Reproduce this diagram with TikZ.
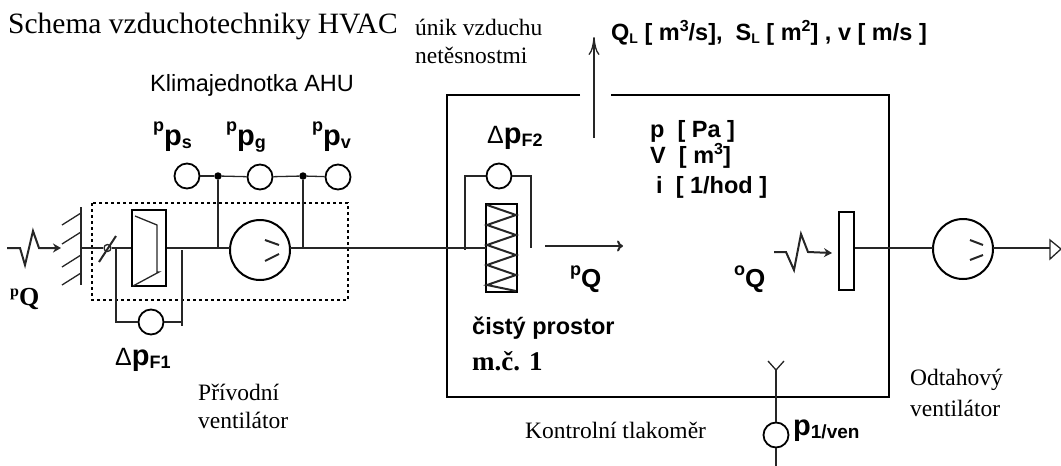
\documentclass[tikz,border=0pt]{standalone}
\usepackage{fontspec}
\setmainfont{Liberation Serif}
\setsansfont{Liberation Sans}
\usetikzlibrary{arrows.meta}
\newcommand{\fsz}[1]{\fontsize{#1}{#1}\selectfont}
\newcommand{\upidx}[2]{\raisebox{#2}{\fsz{18}#1}}
\newcommand{\dnidx}[2]{\raisebox{-3pt}{\fsz{#2}#1}}
\newcommand{\supidx}[1]{\raisebox{9pt}{\fsz{16}#1}}
\tikzset{
    pipe/.style={line width=1.3pt,black!85},
    wall/.style={line width=2.2pt},
    gauge/.style={circle,draw,line width=1.8pt,minimum size=25pt,inner sep=0pt},
    fan/.style={circle,draw,line width=2pt,minimum size=60pt,inner sep=0pt},
    dot/.style={circle,fill,minimum size=7.5pt,inner sep=0pt},
    lab/.style={anchor=west,inner sep=0pt,font=\sffamily\bfseries\fsz{23.5}},
    note/.style={anchor=west,inner sep=0pt,font=\rmfamily\fsz{23.5},align=left},
    big/.style={anchor=base west,inner sep=0pt,font=\sffamily\bfseries\fsz{29}},
    vane/.style={line width=2pt,black!85},
}
\begin{document}
\begin{tikzpicture}[x=1pt,y=-1pt]
    \useasboundingbox (0,0) rectangle (1061,466);
    %% texts
    \node[note,font=\rmfamily\fsz{29.5}] (title) at (8,26) {Schema vzduchotechniky HVAC};
    \node[note] (leaka) at (415,27) {únik vzduchu};
    \node[note] (leakb) at (415,55) {netěsnostmi};
    \node[note,font=\sffamily\fsz{23.5}] (ahu) at (150,85) {Klimajednotka AHU};
    \node[lab] (leakdata) at (611,33) {Q\dnidx{L}{14} [ m\supidx{3}/s],\ \ S\dnidx{L}{14} [ m\supidx{2}] , v [ m/s ]};
    \node[lab] (roomp) at (650,131) {p\ \ [ Pa ]};
    \node[lab] (roomv) at (650,156) {V\ \ [ m\supidx{3}]};
    \node[lab] (roomi) at (656,187) {i\ \ [ 1/hod ]};
    \node[big] (lps) at (153,145) {\upidx{p}{14pt}p\dnidx{s}{18}};
    \node[big] (lpg) at (226,145) {\upidx{p}{14pt}p\dnidx{g}{18}};
    \node[big] (lpv) at (312,145) {\upidx{p}{14pt}p\dnidx{v}{18}};
    \node[big] (ldfa) at (115,365) {{\mdseries\fsz{25}Δ}p\dnidx{F1}{18}};
    \node[big] (ldfb) at (487,143) {{\mdseries\fsz{25}Δ}p\dnidx{F2}{18}};
    \node[big,font=\rmfamily\bfseries\fsz{26}] (lqin) at (10,305) {\raisebox{9pt}{\fsz{16}p}Q};
    \node[big,font=\sffamily\bfseries\fsz{26}] (lqroom) at (570,287) {\upidx{p}{12pt}Q};
    \node[big,font=\sffamily\bfseries\fsz{26}] (lqout) at (734,287) {\upidx{o}{12pt}Q};
    \node[note,font=\sffamily\bfseries\fsz{23.5}] (clean) at (472,328) {čistý prostor};
    \node[note,font=\rmfamily\bfseries\fsz{27}] (mc) at (472,361) {m.č. 1};
    \node[note] (supa) at (198,392) {Přívodní};
    \node[note] (supb) at (198,420) {ventilátor};
    \node[note] (ctrl) at (525,430) {Kontrolní tlakoměr};
    \node[note] (odta) at (910,380) {Odtahový};
    \node[note] (odtb) at (910,408) {ventilátor};
    \node[big] (lpone) at (793,435) {p\dnidx{1/ven}{19}};
    %% room walls
    \draw[wall] (580,95) -- (447,95) -- (447,397) -- (889,397) -- (889,95) -- (611,95);
    %% AHU frame
    \draw[line width=1.6pt,dash pattern=on 3pt off 3pt] (92,203) rectangle (348,300);
    %% inlet grille
    \coordinate (grille) at (81,248);
    \draw[pipe] (81,207) -- (81,285);
    \foreach \y in {213,232,255,273}
        \draw[pipe] (81,\y) -- (62,\y+12);
    %% elements on the supply duct
    \node[circle,draw,pipe,minimum size=7pt,inner sep=0pt] (damper) at (107.5,248) {};
    \draw[vane] (99,262) -- (116,236);
    \node[draw,line width=1.6pt,minimum width=34pt,minimum height=76pt,inner sep=0pt] (filter) at (149,248) {};
    \draw[pipe] (135,216) -- (157,225) -- (157,272) -- (159,272) -- (133,286);
    \node[fan] (supfan) at (260,250) {};
    \draw[vane] (265,240) -- (279,245) (265,261) -- (279,254);
    \node[draw,line width=2pt,minimum width=31pt,minimum height=88pt,inner sep=0pt] (coil) at (501.5,248) {};
    \draw[vane] (487,205) -- (516,215) -- (487,225) -- (516,235) -- (487,245) -- (516,255) -- (487,265) -- (516,275) -- (487,285) -- (516,291);
    %% duct
    \coordinate (supout) at (290,248);
    \coordinate (coilin) at (486,248);
    \draw[pipe] (grille) -- (damper);
    \draw[pipe] (damper) -- (filter);
    \draw[pipe] (filter.east) -- (230,248);
    \draw[pipe] (supout) -- (coilin);
    %% pressure gauges
    \node[gauge] (ps) at (187,176) {};
    \node[gauge] (pg) at (260,177) {};
    \node[gauge] (pv) at (338,177) {};
    \node[dot] (tapa) at (218,176) {};
    \node[dot] (tapb) at (303,176) {};
    \draw[pipe] (ps) -- (tapa);
    \draw[pipe] (tapa) -- (pg);
    \draw[pipe] (pg) -- (tapb);
    \draw[pipe] (tapb) -- (pv);
    \draw[pipe] (tapa) -- (218,248);
    \draw[pipe] (tapb) -- (303,248);
    %% filter gauge
    \node[gauge] (dfa) at (151,322) {};
    \draw[pipe] (dfa) -- (116,322) -- (116,248);
    \draw[pipe] (dfa) -- (182,322);
    \draw[pipe] (182,250) -- (182,326);
    %% coil gauge
    \node[gauge] (dfb) at (499,176) {};
    \draw[pipe] (dfb) -- (465,176) -- (465,250);
    \draw[pipe] (dfb) -- (531,176) -- (531,248);
    %% air flows
    \draw[vane,-{Stealth[length=8pt,width=9pt]}] (7,248) -- (20,248) -- (25,265) -- (33,231) -- (39,248) -- (61,248);
    \draw[vane,-{Stealth[length=8pt,width=9pt]}] (774,252) -- (786,252) -- (794,270) -- (801,234) -- (808,252) -- (832,253);
    \draw[vane,-{To[length=6pt,width=11pt]}] (545,246) -- (623,246);
    \draw[pipe,-{To[length=18pt,width=11pt]}] (594,138) -- (594,37);
    %% exhaust
    \node[draw,line width=1.6pt,minimum width=15pt,minimum height=78pt,inner sep=0pt] (outlet) at (846.5,251) {};
    \node[fan] (exfan) at (963,249) {};
    \draw[vane] (970,240) -- (983,245) (970,260) -- (983,255);
    \coordinate (vent) at (1050,248);
    \draw[pipe] (855,248) -- (933,248);
    \draw[pipe] (993,248) -- (vent);
    \draw[pipe] (1050,240) -- (1061,249) -- (1050,259) -- cycle;
    %% control gauge
    \node[gauge] (pone) at (776,435) {};
    \coordinate (fork) at (776,370);
    \draw[pipe] (fork) -- (pone);
    \draw[pipe] (pone) -- (776,466);
    \draw[pipe] (768,361) -- (fork) -- (784,361);
\end{tikzpicture}
\end{document}
